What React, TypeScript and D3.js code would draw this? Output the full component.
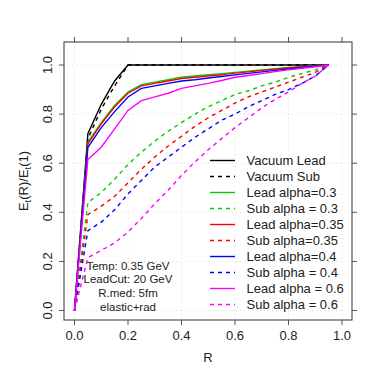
import * as d3 from "d3";

// R sample points (jet cone radius)
const rValues = [0, 0.05, 0.1, 0.15, 0.2, 0.25, 0.3, 0.35, 0.4, 0.45, 0.5, 0.55, 0.6, 0.65, 0.7, 0.75, 0.8, 0.85, 0.9, 0.95];

const vacLead = [0, 0.72, 0.84, 0.935, 1, 1, 1, 1, 1, 1, 1, 1, 1, 1, 1, 1, 1, 1, 1, 1];
const vacSub = [0, 0.70, 0.82, 0.915, 1, 1, 1, 1, 1, 1, 1, 1, 1, 1, 1, 1, 1, 1, 1, 1];
const lead03 = [0, 0.685, 0.765, 0.835, 0.89, 0.92, 0.93, 0.94, 0.95, 0.955, 0.96, 0.965, 0.97, 0.975, 0.98, 0.985, 0.99, 0.993, 0.996, 1];
const sub03 = [0, 0.44, 0.48, 0.535, 0.595, 0.645, 0.69, 0.73, 0.765, 0.80, 0.83, 0.855, 0.88, 0.895, 0.915, 0.93, 0.95, 0.965, 0.98, 1];
const lead035 = [0, 0.68, 0.76, 0.83, 0.885, 0.915, 0.925, 0.935, 0.945, 0.95, 0.955, 0.96, 0.967, 0.972, 0.978, 0.983, 0.988, 0.992, 0.996, 1];
const sub035 = [0, 0.39, 0.425, 0.465, 0.52, 0.575, 0.625, 0.67, 0.71, 0.75, 0.785, 0.815, 0.845, 0.87, 0.89, 0.91, 0.93, 0.95, 0.97, 1];
const lead04 = [0, 0.665, 0.745, 0.81, 0.87, 0.905, 0.915, 0.925, 0.935, 0.94, 0.947, 0.953, 0.96, 0.966, 0.972, 0.978, 0.984, 0.99, 0.995, 1];
const sub04 = [0, 0.325, 0.36, 0.41, 0.475, 0.53, 0.585, 0.625, 0.665, 0.705, 0.74, 0.775, 0.80, 0.83, 0.855, 0.88, 0.90, 0.925, 0.955, 1];
const lead06 = [0, 0.615, 0.665, 0.74, 0.815, 0.855, 0.87, 0.885, 0.905, 0.915, 0.925, 0.937, 0.95, 0.957, 0.965, 0.973, 0.98, 0.987, 0.993, 1];
const sub06 = [0, 0.215, 0.245, 0.275, 0.32, 0.375, 0.435, 0.49, 0.55, 0.605, 0.655, 0.70, 0.745, 0.785, 0.825, 0.86, 0.89, 0.925, 0.955, 1];

const seriesLabels = [
  "Vacuum Lead", "Vacuum Sub",
  "Lead alpha=0.3", "Sub alpha = 0.3",
  "Lead alpha=0.35", "Sub alpha=0.35",
  "Lead alpha=0.4", "Sub alpha = 0.4",
  "Lead alpha = 0.6", "Sub alpha = 0.6",
];
const seriesValues = [vacLead, vacSub, lead03, sub03, lead035, sub035, lead04, sub04, lead06, sub06];
const seriesColors = ["#000000", "#000000", "#00cd00", "#00cd00", "#ff0000", "#ff0000", "#0000ff", "#0000ff", "#ff00ff", "#ff00ff"];
const seriesDashed = [false, true, false, true, false, true, false, true, false, true];

const tickValues = [0, 0.2, 0.4, 0.6, 0.8, 1.0];
const noteLines = ["Temp: 0.35 GeV", "LeadCut: 20 GeV", "R.med: 5fm", "elastic+rad"];

const W = 374;
const H = 374;
const box = { left: 64, right: 352, top: 42, bottom: 320 };
const FONT = "'Liberation Sans', Arial, Helvetica, sans-serif";

// R-style: data range padded 4% on each side
const x = d3.scaleLinear().domain([0, 1]).range([74.5, 342]);
const y = d3.scaleLinear().domain([0, 1]).range([310.5, 65]);

const line = d3.line<[number, number]>()
  .x((d) => x(d[0]))
  .y((d) => y(d[1]));

export default function App() {
  const legendX = 210;
  const legendY0 = 160.5;
  const legendStep = 16;

  return (
    <svg width={W} height={H} style={{ position: "absolute", left: 0, top: 0, background: "#fff" }}>
      {/* dotted grid */}
      {tickValues.map((t) => (
        <g key={`g-${t}`} stroke="#d3d3d3" strokeWidth={0.8} strokeDasharray="1 3">
          <line x1={x(t)} x2={x(t)} y1={box.top} y2={box.bottom} />
          <line x1={box.left} x2={box.right} y1={y(t)} y2={y(t)} />
        </g>
      ))}

      {/* curves */}
      {seriesValues.map((vals, i) => (
        <path
          key={seriesLabels[i]}
          d={line(rValues.map((r, k) => [r, vals[k]] as [number, number])) || ""}
          fill="none"
          stroke={seriesColors[i]}
          strokeWidth={1.4}
          strokeDasharray={seriesDashed[i] ? "4 4" : undefined}
        />
      ))}

      {/* frame */}
      <rect x={box.left} y={box.top} width={box.right - box.left} height={box.bottom - box.top}
        fill="none" stroke="#333" strokeWidth={1} />

      {/* ticks all four sides */}
      {tickValues.map((t) => (
        <g key={`t-${t}`} stroke="#555" strokeWidth={1}>
          <line x1={x(t)} x2={x(t)} y1={box.bottom} y2={box.bottom + 5} />
          <line x1={x(t)} x2={x(t)} y1={box.top} y2={box.top - 5} />
          <line x1={box.left} x2={box.left - 5} y1={y(t)} y2={y(t)} />
          <line x1={box.right} x2={box.right + 5} y1={y(t)} y2={y(t)} />
        </g>
      ))}

      {/* x tick labels */}
      {tickValues.map((t) => (
        <text key={`xl-${t}`} x={x(t)} y={339.5} textAnchor="middle" fontSize={13} fontFamily={FONT} fill="#222">
          {t.toFixed(1)}
        </text>
      ))}
      {/* y tick labels (rotated) */}
      {tickValues.map((t) => (
        <text key={`yl-${t}`} transform={`translate(51.5,${y(t)}) rotate(-90)`} textAnchor="middle"
          fontSize={13} fontFamily={FONT} fill="#222">
          {t.toFixed(1)}
        </text>
      ))}

      {/* axis titles */}
      <text x={(box.left + box.right) / 2} y={361.5} textAnchor="middle" fontSize={13} fontFamily={FONT} fill="#222">R</text>
      <text transform={`translate(28,${(box.top + box.bottom) / 2}) rotate(-90)`} textAnchor="middle"
        fontSize={13} fontFamily={FONT} fill="#222">
        E<tspan fontSize={9.5} dy={3}>t</tspan><tspan dy={-3}>(R)/E</tspan><tspan fontSize={9.5} dy={3}>t</tspan><tspan dy={-3}>(1)</tspan>
      </text>

      {/* legend */}
      {seriesLabels.map((lab, i) => {
        const ly = legendY0 + i * legendStep;
        return (
          <g key={`lg-${lab}`}>
            <line x1={legendX} x2={legendX + 25} y1={ly} y2={ly}
              stroke={seriesColors[i]} strokeWidth={1.4}
              strokeDasharray={seriesDashed[i] ? "4 4" : undefined} />
            <text x={legendX + 36.5} y={ly + 4.6} fontSize={13} fontFamily={FONT} fill="#222">{lab}</text>
          </g>
        );
      })}

      {/* annotation */}
      {noteLines.map((s, i) => (
        <text key={s} x={x(0.2)} y={269.7 + i * 13.7} textAnchor="middle" fontSize={11.5} fontFamily={FONT} fill="#222">
          {s}
        </text>
      ))}
    </svg>
  );
}
